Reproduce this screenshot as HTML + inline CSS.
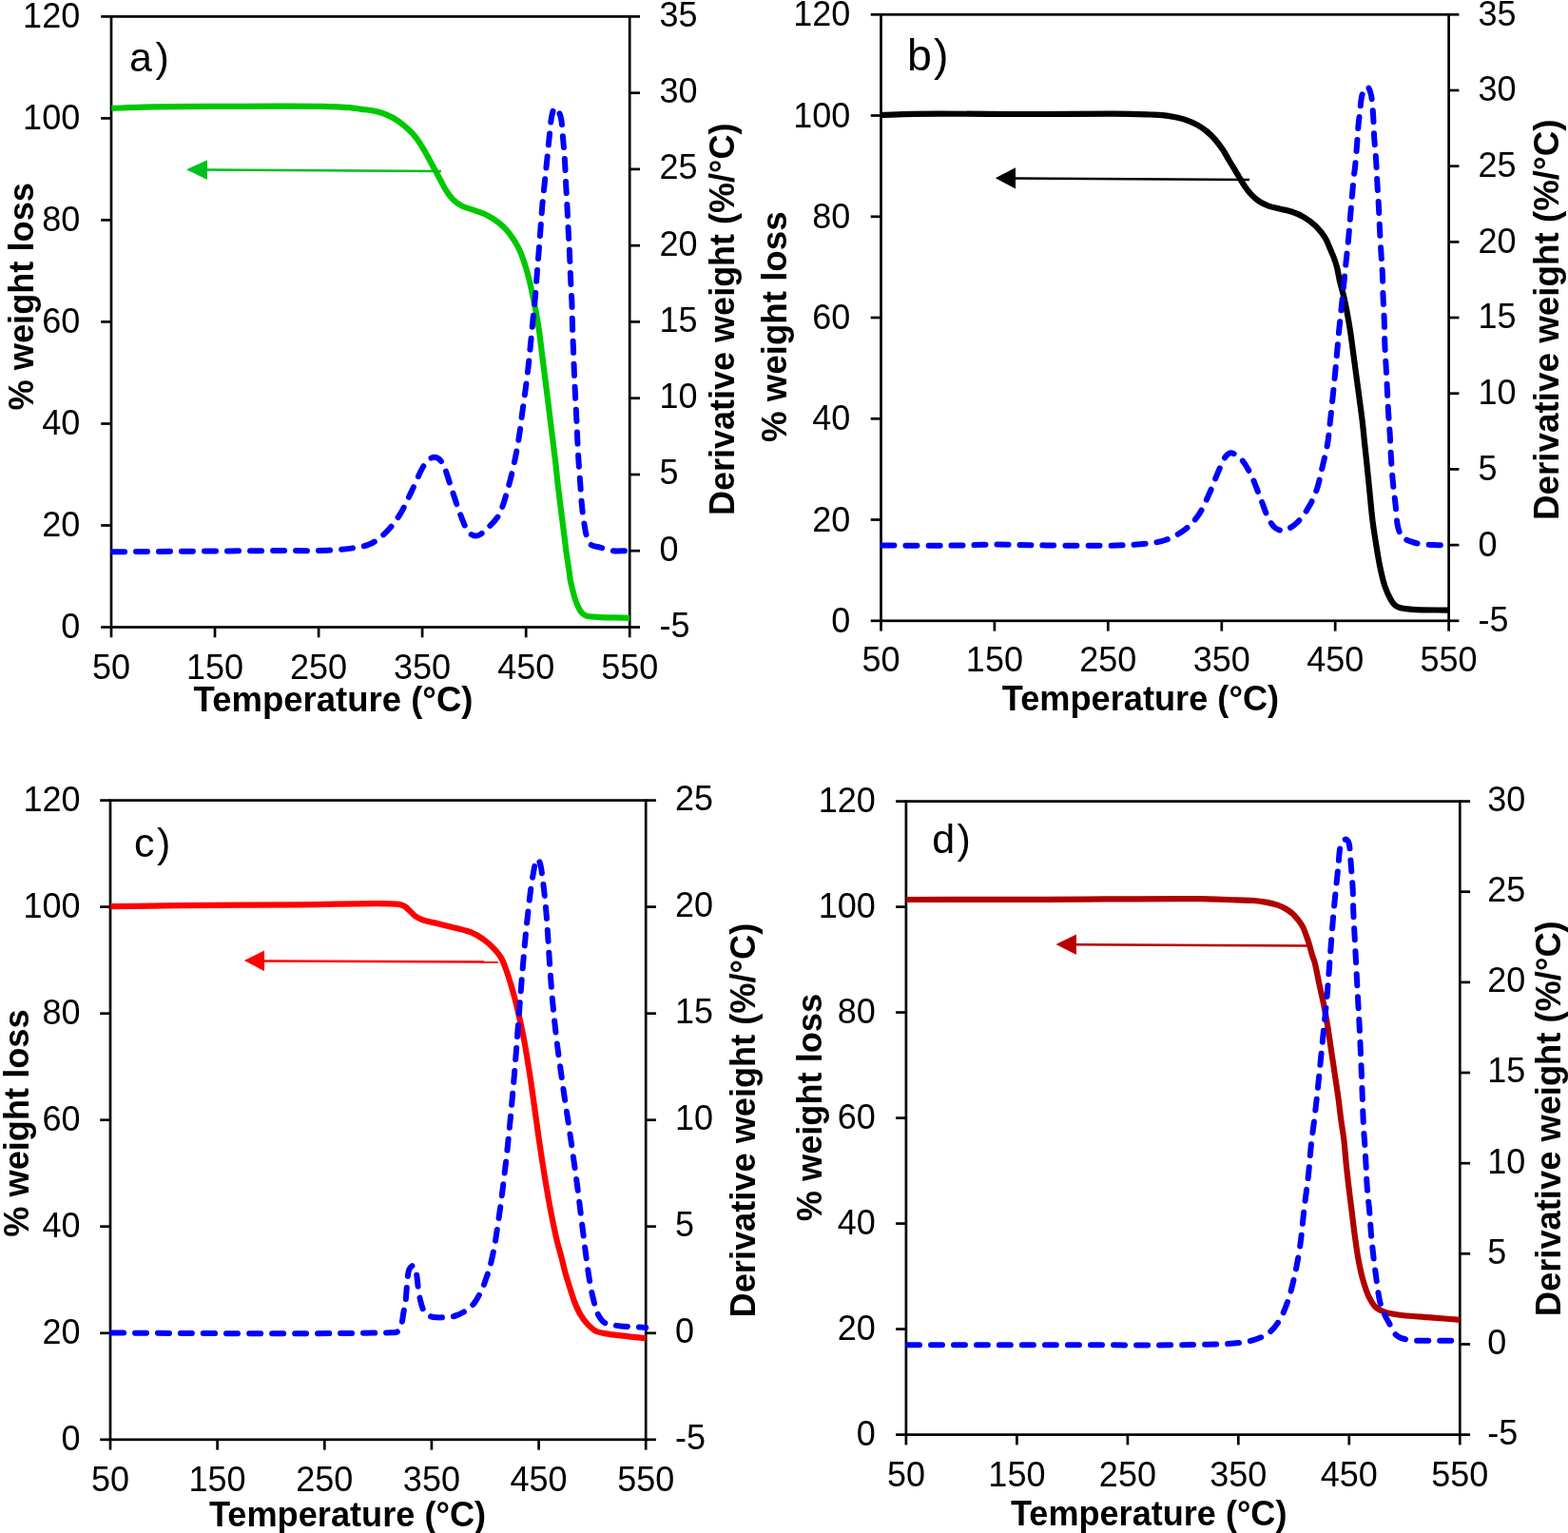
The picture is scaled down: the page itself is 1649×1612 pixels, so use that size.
<!DOCTYPE html><html><head><meta charset="utf-8"><title>TGA</title><style>html,body{margin:0;padding:0;background:#fff;}svg{display:block;}</style></head><body>
<svg width="1649" height="1612" viewBox="0 0 1649 1612">
<rect width="100%" height="100%" fill="#fff"/>
<g stroke="#000" stroke-width="2.7" fill="none" stroke-linecap="butt">
<rect x="117.0" y="17.4" width="545.2" height="642.1"/>
<line x1="106.2" y1="659.5" x2="117.0" y2="659.5"/>
<line x1="106.2" y1="552.5" x2="117.0" y2="552.5"/>
<line x1="106.2" y1="445.5" x2="117.0" y2="445.5"/>
<line x1="106.2" y1="338.4" x2="117.0" y2="338.4"/>
<line x1="106.2" y1="231.4" x2="117.0" y2="231.4"/>
<line x1="106.2" y1="124.4" x2="117.0" y2="124.4"/>
<line x1="106.2" y1="17.4" x2="117.0" y2="17.4"/>
<line x1="662.2" y1="659.5" x2="673.0" y2="659.5"/>
<line x1="662.2" y1="579.2" x2="673.0" y2="579.2"/>
<line x1="662.2" y1="499.0" x2="673.0" y2="499.0"/>
<line x1="662.2" y1="418.7" x2="673.0" y2="418.7"/>
<line x1="662.2" y1="338.4" x2="673.0" y2="338.4"/>
<line x1="662.2" y1="258.2" x2="673.0" y2="258.2"/>
<line x1="662.2" y1="177.9" x2="673.0" y2="177.9"/>
<line x1="662.2" y1="97.7" x2="673.0" y2="97.7"/>
<line x1="662.2" y1="17.4" x2="673.0" y2="17.4"/>
<line x1="117.0" y1="659.5" x2="117.0" y2="670.3"/>
<line x1="226.0" y1="659.5" x2="226.0" y2="670.3"/>
<line x1="335.1" y1="659.5" x2="335.1" y2="670.3"/>
<line x1="444.1" y1="659.5" x2="444.1" y2="670.3"/>
<line x1="553.2" y1="659.5" x2="553.2" y2="670.3"/>
<line x1="662.2" y1="659.5" x2="662.2" y2="670.3"/>
</g>
<g font-family='"Liberation Sans", Arial, sans-serif' font-size="36" fill="#000">
<text x="84.2" y="670.6" text-anchor="end">0</text>
<text x="84.2" y="563.6" text-anchor="end">20</text>
<text x="84.2" y="456.6" text-anchor="end">40</text>
<text x="84.2" y="349.6" text-anchor="end">60</text>
<text x="84.2" y="242.5" text-anchor="end">80</text>
<text x="84.2" y="135.5" text-anchor="end">100</text>
<text x="84.2" y="28.5" text-anchor="end">120</text>
<text x="693.6" y="669.9">-5</text>
<text x="693.6" y="589.6">0</text>
<text x="693.6" y="509.4">5</text>
<text x="693.6" y="429.1">10</text>
<text x="693.6" y="348.8">15</text>
<text x="693.6" y="268.6">20</text>
<text x="693.6" y="188.3">25</text>
<text x="693.6" y="108.1">30</text>
<text x="693.6" y="27.8">35</text>
<text x="117.0" y="713.6" text-anchor="middle">50</text>
<text x="226.0" y="713.6" text-anchor="middle">150</text>
<text x="335.1" y="713.6" text-anchor="middle">250</text>
<text x="444.1" y="713.6" text-anchor="middle">350</text>
<text x="553.2" y="713.6" text-anchor="middle">450</text>
<text x="662.2" y="713.6" text-anchor="middle">550</text>
</g>
<g font-family='"Liberation Sans", Arial, sans-serif' font-weight="bold" fill="#000">
<text x="203.6" y="748.2" font-size="36.5">Temperature (°C)</text>
<text transform="translate(34.8,431.4) rotate(-90)" font-size="36.2">% weight loss</text>
<text transform="translate(772.3,542.0) rotate(-90)" font-size="36.0">Derivative weight (%/°C)</text>
</g>
<text x="136.0" y="75.3" font-family='"Liberation Sans", Arial, sans-serif' font-size="43" fill="#000">a<tspan dx="3.5">)</tspan></text>
<path d="M117.20,114.00 C128.53,113.53 137.39,112.94 151.20,112.60 C172.70,112.07 204.67,112.02 233.70,111.90 C266.15,111.76 312.49,111.39 336.80,111.90 C350.12,112.18 359.74,112.52 367.70,113.20 C372.74,113.63 376.00,114.29 380.00,114.80 C383.82,115.29 387.50,115.50 391.20,116.20 C394.93,116.90 398.65,117.73 402.30,119.00 C406.08,120.31 409.86,121.94 413.50,124.00 C417.34,126.17 421.28,129.02 424.70,131.80 C427.94,134.44 430.84,137.16 433.60,140.20 C436.41,143.29 438.92,146.53 441.40,150.20 C444.14,154.26 446.73,159.21 449.20,163.60 C451.55,167.77 453.67,171.80 455.90,175.90 C458.13,180.00 460.37,184.10 462.60,188.20 C464.83,192.30 466.81,196.71 469.30,200.50 C471.67,204.11 474.17,207.74 477.10,210.50 C479.82,213.06 482.82,215.03 486.10,216.70 C489.50,218.43 493.49,219.30 497.20,220.60 C500.92,221.90 504.73,222.88 508.40,224.50 C512.20,226.18 515.98,228.18 519.60,230.60 C523.43,233.16 527.39,236.24 530.70,239.60 C533.99,242.94 536.79,246.80 539.40,250.70 C542.02,254.60 544.39,258.73 546.40,263.00 C548.43,267.30 549.98,271.89 551.50,276.40 C553.01,280.89 554.25,285.28 555.50,290.00 C556.83,295.05 557.96,300.14 559.20,305.80 C560.63,312.34 562.19,319.89 563.50,327.00 C564.82,334.15 566.09,341.66 567.10,348.60 C568.03,355.02 568.63,361.00 569.40,367.20 C570.17,373.40 570.92,379.60 571.70,385.80 C572.48,392.00 573.32,398.20 574.10,404.40 C574.88,410.60 575.63,416.80 576.40,423.00 C577.17,429.20 577.93,435.40 578.70,441.60 C579.47,447.80 580.24,454.07 581.00,460.20 C581.74,466.20 582.56,472.83 583.20,478.00 C583.69,481.99 584.05,484.57 584.50,488.60 C585.10,493.93 585.70,501.00 586.40,507.20 C587.10,513.40 587.93,519.60 588.70,525.80 C589.47,532.00 590.22,538.20 591.00,544.40 C591.78,550.60 592.62,556.80 593.40,563.00 C594.18,569.20 594.85,575.41 595.70,581.60 C596.55,587.81 597.76,594.98 598.50,600.20 C599.04,603.98 599.20,606.76 599.80,610.00 C600.40,613.26 601.30,616.47 602.10,619.70 C602.90,622.94 603.59,626.28 604.60,629.40 C605.57,632.41 606.71,635.48 608.00,638.10 C609.14,640.42 610.23,642.78 611.80,644.40 C613.20,645.85 614.59,646.86 616.70,647.60 C619.74,648.67 624.57,648.50 628.80,648.80 C633.43,649.12 638.22,649.24 643.40,649.40 C649.29,649.58 656.00,649.67 662.30,649.80" fill="none" stroke="#00c800" stroke-width="6.2" stroke-linecap="butt" stroke-linejoin="round"/>
<path d="M119.00,580.20 C146.00,580.03 171.58,579.89 200.00,579.70 C231.58,579.49 275.42,579.09 300.00,579.00 C314.35,578.95 322.83,579.36 334.10,579.00 C345.20,578.65 357.18,578.32 367.10,576.90 C375.42,575.71 383.12,574.88 389.80,571.80 C396.09,568.89 401.29,564.34 406.30,559.40 C411.65,554.12 416.37,547.67 420.70,540.80 C425.39,533.35 429.01,524.47 433.10,516.10 C437.28,507.54 441.64,495.90 445.50,490.00 C447.76,486.54 449.79,484.00 452.00,482.50 C453.58,481.42 455.21,480.79 456.80,480.80 C458.38,480.81 460.08,481.46 461.50,482.50 C463.25,483.78 464.58,485.68 466.10,488.50 C468.86,493.62 471.58,504.06 474.30,512.00 C477.08,520.12 479.70,528.97 482.60,536.70 C485.23,543.71 488.09,552.08 490.80,556.50 C492.37,559.07 493.77,560.82 495.50,562.00 C496.92,562.97 498.54,563.59 500.10,563.60 C501.70,563.62 503.35,562.93 505.00,562.00 C507.11,560.81 509.00,558.83 511.40,556.50 C514.95,553.06 520.31,548.71 523.80,542.90 C528.31,535.40 531.09,524.18 534.10,514.00 C537.36,502.98 540.24,489.60 542.40,479.00 C544.18,470.28 545.33,462.78 546.50,455.00 C547.60,447.67 548.33,440.80 549.30,433.60 C550.29,426.24 551.39,418.93 552.40,411.30 C553.46,403.26 554.57,394.77 555.50,386.50 C556.43,378.24 557.18,369.98 558.00,361.70 C558.82,353.41 559.58,345.09 560.40,336.80 C561.22,328.52 562.16,320.37 562.90,312.00 C563.66,303.44 564.24,294.33 564.90,286.00 C565.51,278.28 566.10,271.33 566.70,263.70 C567.33,255.65 567.98,247.06 568.60,238.90 C569.21,230.94 569.69,223.21 570.40,215.30 C571.12,207.28 572.07,199.17 572.90,191.10 C573.73,183.03 574.57,175.02 575.40,166.90 C576.24,158.68 577.01,150.03 577.90,142.10 C578.72,134.78 579.23,126.20 580.50,121.00 C581.28,117.81 582.04,113.86 583.30,113.50 C584.20,113.25 585.56,114.80 586.50,116.00 C587.80,117.65 588.85,119.91 589.70,123.00 C591.16,128.34 591.39,138.13 592.10,145.80 C592.82,153.59 593.49,161.43 594.00,169.40 C594.53,177.56 594.78,186.04 595.20,194.20 C595.61,202.16 596.09,209.84 596.50,217.80 C596.92,225.96 597.28,234.44 597.70,242.60 C598.11,250.56 598.61,258.05 599.00,266.20 C599.42,274.94 599.69,284.54 600.10,293.40 C600.49,301.86 601.08,309.92 601.40,318.20 C601.72,326.49 601.73,334.81 602.00,343.10 C602.27,351.38 602.68,359.63 603.00,367.90 C603.32,376.17 603.55,384.43 603.90,392.70 C604.25,400.97 604.68,409.23 605.10,417.50 C605.52,425.77 606.05,434.90 606.40,442.30 C606.69,448.30 606.81,452.60 607.10,458.60 C607.45,466.00 607.88,475.14 608.40,483.40 C608.92,491.67 609.58,499.93 610.20,508.20 C610.82,516.47 611.29,525.33 612.10,533.00 C612.80,539.68 613.67,546.12 614.60,551.70 C615.37,556.27 615.76,560.38 617.10,564.10 C618.32,567.47 619.70,571.38 622.00,573.20 C624.00,574.78 627.17,574.58 629.50,575.20 C631.53,575.74 633.02,576.14 635.20,576.70 C638.13,577.45 641.89,578.87 645.50,579.30 C649.39,579.77 655.36,579.21 657.80,579.20 C658.83,579.20 659.27,579.20 660.00,579.20" fill="none" stroke="#0000ff" stroke-width="6.0" stroke-dasharray="12 12" stroke-linecap="round" stroke-linejoin="round"/>
<line x1="216.0" y1="178.6" x2="464.0" y2="180.0" stroke="#00c020" stroke-width="2.5"/>
<polygon points="196.0,178.2 218.0,168.2 218.0,189.1" fill="#00c020"/>
<g stroke="#000" stroke-width="2.7" fill="none" stroke-linecap="butt">
<rect x="926.5" y="15.3" width="597.1" height="637.5"/>
<line x1="915.7" y1="652.8" x2="926.5" y2="652.8"/>
<line x1="915.7" y1="546.5" x2="926.5" y2="546.5"/>
<line x1="915.7" y1="440.3" x2="926.5" y2="440.3"/>
<line x1="915.7" y1="334.0" x2="926.5" y2="334.0"/>
<line x1="915.7" y1="227.8" x2="926.5" y2="227.8"/>
<line x1="915.7" y1="121.5" x2="926.5" y2="121.5"/>
<line x1="915.7" y1="15.3" x2="926.5" y2="15.3"/>
<line x1="1523.6" y1="652.8" x2="1534.4" y2="652.8"/>
<line x1="1523.6" y1="573.1" x2="1534.4" y2="573.1"/>
<line x1="1523.6" y1="493.4" x2="1534.4" y2="493.4"/>
<line x1="1523.6" y1="413.7" x2="1534.4" y2="413.7"/>
<line x1="1523.6" y1="334.0" x2="1534.4" y2="334.0"/>
<line x1="1523.6" y1="254.4" x2="1534.4" y2="254.4"/>
<line x1="1523.6" y1="174.7" x2="1534.4" y2="174.7"/>
<line x1="1523.6" y1="95.0" x2="1534.4" y2="95.0"/>
<line x1="1523.6" y1="15.3" x2="1534.4" y2="15.3"/>
<line x1="926.5" y1="652.8" x2="926.5" y2="663.6"/>
<line x1="1045.9" y1="652.8" x2="1045.9" y2="663.6"/>
<line x1="1165.3" y1="652.8" x2="1165.3" y2="663.6"/>
<line x1="1284.8" y1="652.8" x2="1284.8" y2="663.6"/>
<line x1="1404.2" y1="652.8" x2="1404.2" y2="663.6"/>
<line x1="1523.6" y1="652.8" x2="1523.6" y2="663.6"/>
</g>
<g font-family='"Liberation Sans", Arial, sans-serif' font-size="36" fill="#000">
<text x="894.3" y="664.9" text-anchor="end">0</text>
<text x="894.3" y="558.6" text-anchor="end">20</text>
<text x="894.3" y="452.4" text-anchor="end">40</text>
<text x="894.3" y="346.1" text-anchor="end">60</text>
<text x="894.3" y="239.9" text-anchor="end">80</text>
<text x="894.3" y="133.6" text-anchor="end">100</text>
<text x="894.3" y="27.4" text-anchor="end">120</text>
<text x="1554.4" y="664.2">-5</text>
<text x="1554.4" y="584.5">0</text>
<text x="1554.4" y="504.8">5</text>
<text x="1554.4" y="425.1">10</text>
<text x="1554.4" y="345.4">15</text>
<text x="1554.4" y="265.8">20</text>
<text x="1554.4" y="186.1">25</text>
<text x="1554.4" y="106.4">30</text>
<text x="1554.4" y="26.7">35</text>
<text x="926.5" y="706.4" text-anchor="middle">50</text>
<text x="1045.9" y="706.4" text-anchor="middle">150</text>
<text x="1165.3" y="706.4" text-anchor="middle">250</text>
<text x="1284.8" y="706.4" text-anchor="middle">350</text>
<text x="1404.2" y="706.4" text-anchor="middle">450</text>
<text x="1523.6" y="706.4" text-anchor="middle">550</text>
</g>
<g font-family='"Liberation Sans", Arial, sans-serif' font-weight="bold" fill="#000">
<text x="1053.8" y="746.8" font-size="36.2">Temperature (°C)</text>
<text transform="translate(827.4,465.0) rotate(-90)" font-size="36.7">% weight loss</text>
<text transform="translate(1639.0,547.0) rotate(-90)" font-size="36.8">Derivative weight (%/°C)</text>
</g>
<text x="953.9" y="73.8" font-family='"Liberation Sans", Arial, sans-serif' font-size="46.5" fill="#000">b<tspan dx="2.2">)</tspan></text>
<path d="M926.50,121.00 C938.07,120.60 946.07,120.05 961.20,119.80 C989.77,119.33 1045.63,120.01 1085.00,120.00 C1120.91,119.99 1166.30,119.48 1188.00,119.80 C1198.03,119.95 1203.71,120.25 1210.00,120.50 C1214.72,120.69 1218.28,120.69 1222.40,121.10 C1226.54,121.52 1230.69,122.17 1234.80,123.00 C1238.95,123.84 1243.13,124.70 1247.20,126.10 C1251.40,127.54 1255.78,129.46 1259.60,131.60 C1263.21,133.63 1266.50,135.92 1269.60,138.50 C1272.70,141.08 1275.53,144.02 1278.20,147.10 C1280.90,150.22 1283.30,153.52 1285.70,157.10 C1288.28,160.95 1290.62,165.37 1293.10,169.50 C1295.59,173.64 1298.11,177.76 1300.60,181.90 C1303.08,186.03 1305.41,190.47 1308.00,194.30 C1310.40,197.86 1312.75,201.25 1315.50,204.20 C1318.14,207.02 1320.98,209.63 1324.10,211.70 C1327.18,213.75 1330.51,215.29 1334.10,216.60 C1337.94,218.00 1342.37,218.67 1346.50,219.70 C1350.63,220.73 1354.83,221.38 1358.90,222.80 C1363.10,224.26 1367.29,226.03 1371.30,228.40 C1375.58,230.93 1380.00,234.11 1383.70,237.70 C1387.44,241.33 1390.99,245.84 1393.60,250.10 C1395.97,253.96 1397.43,258.42 1399.00,262.00 C1400.28,264.92 1401.31,267.10 1402.40,270.00 C1403.66,273.35 1404.97,277.09 1406.00,281.00 C1407.14,285.31 1407.67,289.87 1408.80,294.80 C1410.13,300.55 1412.18,307.18 1413.60,313.40 C1415.01,319.58 1416.17,325.79 1417.30,332.00 C1418.43,338.19 1419.47,344.38 1420.40,350.60 C1421.33,356.82 1422.07,363.08 1422.90,369.30 C1423.73,375.51 1424.57,381.70 1425.40,387.90 C1426.23,394.10 1427.07,400.30 1427.90,406.50 C1428.73,412.70 1429.58,418.90 1430.40,425.10 C1431.22,431.30 1432.05,437.29 1432.80,443.70 C1433.60,450.55 1434.29,458.24 1435.00,465.00 C1435.65,471.15 1436.19,475.83 1436.90,482.60 C1437.86,491.80 1439.10,504.34 1440.20,515.20 C1441.30,526.04 1442.22,537.47 1443.50,547.70 C1444.65,556.89 1446.04,565.46 1447.40,573.80 C1448.65,581.51 1449.76,588.75 1451.30,596.00 C1452.80,603.07 1454.34,610.59 1456.50,616.80 C1458.35,622.13 1460.89,627.71 1463.00,631.20 C1464.35,633.44 1465.43,634.98 1467.00,636.30 C1468.49,637.54 1469.93,638.29 1472.10,639.00 C1475.39,640.07 1479.67,640.45 1485.20,640.90 C1494.62,641.67 1510.80,641.37 1523.60,641.60" fill="none" stroke="#000000" stroke-width="6.2" stroke-linecap="butt" stroke-linejoin="round"/>
<path d="M928.50,573.60 C952.33,573.60 978.29,573.82 1000.00,573.60 C1018.15,573.42 1033.33,572.63 1050.00,572.60 C1066.67,572.57 1081.76,573.23 1100.00,573.40 C1122.04,573.61 1153.17,574.23 1173.00,573.60 C1186.67,573.16 1197.90,572.54 1207.60,571.30 C1214.73,570.39 1219.86,570.02 1226.00,567.80 C1232.92,565.30 1240.89,560.95 1246.80,556.30 C1252.28,552.00 1256.56,547.16 1260.60,541.30 C1265.14,534.72 1268.50,526.23 1272.10,518.30 C1275.82,510.11 1279.31,499.89 1282.50,492.90 C1284.81,487.83 1286.61,482.84 1289.00,480.00 C1290.57,478.14 1292.18,476.56 1294.00,476.30 C1295.84,476.03 1298.05,477.33 1300.00,478.50 C1302.31,479.89 1304.49,481.83 1306.70,484.50 C1309.81,488.27 1313.04,494.05 1315.90,499.80 C1319.28,506.59 1322.11,515.21 1325.20,522.90 C1328.28,530.57 1331.21,540.12 1334.40,545.90 C1336.55,549.79 1338.45,552.99 1341.00,555.00 C1343.10,556.65 1345.73,557.71 1348.00,557.90 C1350.05,558.07 1351.83,557.46 1354.00,556.50 C1357.09,555.13 1360.95,552.65 1364.30,549.40 C1368.68,545.15 1373.50,538.16 1377.00,532.10 C1380.39,526.24 1382.97,519.93 1385.10,513.70 C1387.17,507.63 1388.08,502.08 1389.70,495.20 C1391.73,486.58 1394.67,474.98 1396.20,466.00 C1397.49,458.43 1397.89,452.13 1398.70,444.90 C1399.56,437.28 1400.38,429.34 1401.20,421.40 C1402.04,413.25 1402.91,404.77 1403.70,396.60 C1404.47,388.64 1405.18,380.87 1405.90,373.00 C1406.62,365.13 1407.23,357.26 1408.00,349.40 C1408.77,341.53 1409.68,333.77 1410.50,325.80 C1411.34,317.64 1412.17,309.27 1413.00,301.00 C1413.83,292.73 1414.66,284.39 1415.50,276.20 C1416.33,268.16 1417.25,260.25 1418.00,252.30 C1418.75,244.39 1419.32,236.55 1420.00,228.60 C1420.69,220.55 1421.42,212.01 1422.10,204.30 C1422.72,197.31 1423.35,189.11 1423.90,184.30 C1424.21,181.57 1424.48,180.74 1424.80,177.90 C1425.44,172.32 1426.36,160.95 1427.00,153.00 C1427.58,145.70 1427.88,138.54 1428.50,132.00 C1429.04,126.24 1429.77,121.08 1430.40,115.80 C1431.00,110.75 1431.18,104.97 1432.20,101.00 C1432.92,98.18 1433.75,95.64 1435.00,94.00 C1435.93,92.79 1437.33,91.27 1438.30,91.50 C1439.59,91.80 1440.65,95.11 1441.50,98.00 C1442.98,103.01 1443.39,112.14 1444.00,119.60 C1444.65,127.57 1444.67,136.25 1445.20,144.40 C1445.71,152.34 1446.57,159.97 1447.10,167.90 C1447.64,176.03 1447.93,184.40 1448.40,192.60 C1448.87,200.73 1449.47,208.83 1449.90,216.90 C1450.33,224.90 1450.56,232.44 1451.00,240.80 C1451.48,250.05 1452.17,261.36 1452.70,270.00 C1453.12,276.90 1453.59,281.95 1453.90,288.60 C1454.26,296.27 1454.28,305.13 1454.60,313.40 C1454.92,321.67 1455.50,329.92 1455.80,338.20 C1456.10,346.49 1456.08,354.92 1456.40,363.10 C1456.72,371.05 1457.28,378.76 1457.70,386.60 C1458.12,394.46 1458.50,402.33 1458.90,410.20 C1459.30,418.07 1459.63,426.01 1460.10,433.80 C1460.56,441.44 1461.23,448.67 1461.70,456.50 C1462.20,464.89 1462.45,473.91 1463.00,482.60 C1463.55,491.28 1464.19,500.28 1465.00,508.60 C1465.75,516.30 1466.75,523.29 1467.60,530.80 C1468.48,538.52 1468.57,548.14 1470.20,554.30 C1471.33,558.57 1472.24,562.11 1474.70,564.70 C1477.20,567.34 1481.90,568.67 1485.20,569.90 C1487.94,570.92 1489.83,571.38 1493.00,571.90 C1497.77,572.68 1505.97,572.96 1511.20,573.20 C1515.15,573.38 1518.13,573.33 1521.60,573.40" fill="none" stroke="#0000ff" stroke-width="6.0" stroke-dasharray="12 12" stroke-linecap="round" stroke-linejoin="round"/>
<line x1="1066.0" y1="187.4" x2="1314.0" y2="189.0" stroke="#000000" stroke-width="2.5"/>
<polygon points="1046.8,187.2 1068.0,176.3 1068.0,198.4" fill="#000000"/>
<g stroke="#000" stroke-width="2.7" fill="none" stroke-linecap="butt">
<rect x="116.0" y="841.6" width="563.2" height="672.2"/>
<line x1="105.2" y1="1513.8" x2="116.0" y2="1513.8"/>
<line x1="105.2" y1="1401.8" x2="116.0" y2="1401.8"/>
<line x1="105.2" y1="1289.7" x2="116.0" y2="1289.7"/>
<line x1="105.2" y1="1177.7" x2="116.0" y2="1177.7"/>
<line x1="105.2" y1="1065.7" x2="116.0" y2="1065.7"/>
<line x1="105.2" y1="953.6" x2="116.0" y2="953.6"/>
<line x1="105.2" y1="841.6" x2="116.0" y2="841.6"/>
<line x1="679.2" y1="1513.8" x2="690.0" y2="1513.8"/>
<line x1="679.2" y1="1401.8" x2="690.0" y2="1401.8"/>
<line x1="679.2" y1="1289.7" x2="690.0" y2="1289.7"/>
<line x1="679.2" y1="1177.7" x2="690.0" y2="1177.7"/>
<line x1="679.2" y1="1065.7" x2="690.0" y2="1065.7"/>
<line x1="679.2" y1="953.6" x2="690.0" y2="953.6"/>
<line x1="679.2" y1="841.6" x2="690.0" y2="841.6"/>
<line x1="116.0" y1="1513.8" x2="116.0" y2="1524.6"/>
<line x1="228.6" y1="1513.8" x2="228.6" y2="1524.6"/>
<line x1="341.3" y1="1513.8" x2="341.3" y2="1524.6"/>
<line x1="453.9" y1="1513.8" x2="453.9" y2="1524.6"/>
<line x1="566.6" y1="1513.8" x2="566.6" y2="1524.6"/>
<line x1="679.2" y1="1513.8" x2="679.2" y2="1524.6"/>
</g>
<g font-family='"Liberation Sans", Arial, sans-serif' font-size="36" fill="#000">
<text x="84.5" y="1524.9" text-anchor="end">0</text>
<text x="84.5" y="1412.9" text-anchor="end">20</text>
<text x="84.5" y="1300.8" text-anchor="end">40</text>
<text x="84.5" y="1188.8" text-anchor="end">60</text>
<text x="84.5" y="1076.8" text-anchor="end">80</text>
<text x="84.5" y="964.7" text-anchor="end">100</text>
<text x="84.5" y="852.7" text-anchor="end">120</text>
<text x="710.1" y="1524.2">-5</text>
<text x="710.1" y="1412.2">0</text>
<text x="710.1" y="1300.1">5</text>
<text x="710.1" y="1188.1">10</text>
<text x="710.1" y="1076.1">15</text>
<text x="710.1" y="964.0">20</text>
<text x="710.1" y="852.0">25</text>
<text x="116.0" y="1568.1" text-anchor="middle">50</text>
<text x="228.6" y="1568.1" text-anchor="middle">150</text>
<text x="341.3" y="1568.1" text-anchor="middle">250</text>
<text x="453.9" y="1568.1" text-anchor="middle">350</text>
<text x="566.6" y="1568.1" text-anchor="middle">450</text>
<text x="679.2" y="1568.1" text-anchor="middle">550</text>
</g>
<g font-family='"Liberation Sans", Arial, sans-serif' font-weight="bold" fill="#000">
<text x="219.9" y="1604.8" font-size="36.2">Temperature (°C)</text>
<text transform="translate(30.3,1300.7) rotate(-90)" font-size="36.2">% weight loss</text>
<text transform="translate(793.9,1385.4) rotate(-90)" font-size="36.2">Derivative weight (%/°C)</text>
</g>
<text x="141.0" y="900.5" font-family='"Liberation Sans", Arial, sans-serif' font-size="43" fill="#000">c<tspan dx="2.5">)</tspan></text>
<path d="M116.20,953.20 C141.63,952.87 164.01,952.49 192.50,952.20 C228.78,951.83 276.84,951.52 316.20,951.30 C352.13,951.10 405.83,948.71 419.30,950.90 C422.69,951.45 423.55,951.87 425.50,953.00 C427.68,954.26 429.64,956.61 431.60,958.40 C433.47,960.11 434.97,962.06 437.00,963.50 C439.09,964.98 441.06,965.99 444.00,967.10 C448.47,968.78 455.74,970.05 461.60,971.50 C467.44,972.95 473.42,974.32 479.10,975.80 C484.54,977.22 489.99,978.11 495.00,980.20 C499.95,982.26 504.78,985.17 509.00,988.20 C513.00,991.07 516.70,994.50 519.80,997.80 C522.57,1000.75 524.87,1003.44 526.90,1006.90 C529.15,1010.74 530.72,1015.45 532.40,1020.00 C534.17,1024.79 535.70,1029.99 537.20,1035.00 C538.70,1039.99 540.08,1044.99 541.40,1050.00 C542.71,1054.99 543.93,1059.99 545.10,1065.00 C546.26,1069.99 547.35,1074.99 548.40,1080.00 C549.45,1084.99 550.47,1089.99 551.40,1095.00 C552.33,1099.99 553.17,1105.00 554.00,1110.00 C554.83,1115.00 555.62,1120.00 556.40,1125.00 C557.18,1130.00 557.97,1135.00 558.70,1140.00 C559.43,1145.00 560.10,1150.00 560.80,1155.00 C561.50,1160.00 562.20,1165.00 562.90,1170.00 C563.60,1175.00 564.30,1180.00 565.00,1185.00 C565.70,1190.00 566.38,1195.00 567.10,1200.00 C567.82,1205.00 568.53,1210.00 569.30,1215.00 C570.07,1220.00 570.90,1225.00 571.70,1230.00 C572.50,1235.00 573.27,1240.00 574.10,1245.00 C574.93,1250.00 575.80,1255.00 576.70,1260.00 C577.60,1265.00 578.53,1270.00 579.50,1275.00 C580.47,1280.00 581.45,1285.01 582.50,1290.00 C583.55,1295.01 584.53,1299.84 585.80,1305.00 C587.17,1310.58 589.03,1316.63 590.50,1322.30 C591.92,1327.76 593.02,1333.05 594.50,1338.40 C595.99,1343.79 597.74,1349.28 599.40,1354.50 C600.98,1359.47 602.33,1364.29 604.20,1369.00 C606.06,1373.69 608.16,1378.64 610.60,1382.70 C612.79,1386.34 615.16,1389.54 617.90,1392.40 C620.57,1395.19 623.28,1397.96 626.80,1399.70 C630.69,1401.62 635.47,1402.02 640.50,1402.90 C646.53,1403.96 654.03,1404.55 660.60,1405.30 C666.92,1406.02 673.00,1406.63 679.20,1407.30" fill="none" stroke="#ff0000" stroke-width="6.2" stroke-linecap="butt" stroke-linejoin="round"/>
<path d="M118.00,1401.50 C145.33,1401.67 170.99,1401.87 200.00,1402.00 C232.79,1402.15 275.42,1402.34 304.80,1402.30 C326.12,1402.27 343.08,1402.15 360.00,1402.00 C374.40,1401.87 390.56,1401.68 400.00,1401.50 C405.17,1401.40 408.79,1401.39 412.00,1401.20 C414.16,1401.07 415.99,1401.55 417.40,1400.70 C418.84,1399.84 419.63,1397.60 420.50,1396.00 C421.32,1394.49 421.94,1393.30 422.50,1391.40 C423.33,1388.58 423.65,1384.19 424.30,1380.50 C424.98,1376.69 425.95,1372.90 426.50,1368.90 C427.08,1364.68 427.23,1360.14 427.60,1355.80 C427.96,1351.51 428.13,1346.82 428.70,1343.00 C429.17,1339.86 429.34,1336.60 430.50,1334.50 C431.38,1332.91 432.97,1330.98 434.10,1331.00 C435.13,1331.02 436.29,1332.60 437.00,1334.00 C438.04,1336.04 438.05,1339.54 438.50,1342.70 C439.03,1346.44 439.30,1350.90 439.90,1355.00 C440.50,1359.13 441.08,1363.44 442.10,1367.40 C443.07,1371.19 443.89,1375.44 445.80,1378.30 C447.46,1380.78 449.89,1382.84 452.30,1384.00 C454.53,1385.07 456.91,1385.10 459.60,1385.30 C462.86,1385.54 467.24,1385.27 470.50,1385.00 C473.18,1384.78 475.18,1384.76 477.80,1384.00 C481.14,1383.03 485.33,1381.14 488.70,1379.00 C492.13,1376.82 495.36,1374.40 498.20,1371.00 C501.57,1366.96 504.63,1360.62 506.90,1355.80 C508.82,1351.73 509.94,1347.94 511.30,1344.10 C512.60,1340.42 513.90,1336.65 514.90,1333.20 C515.79,1330.15 516.35,1327.78 517.10,1324.50 C518.07,1320.29 519.20,1314.88 520.10,1310.00 C521.01,1305.05 521.73,1300.00 522.50,1295.00 C523.27,1290.00 523.98,1285.00 524.70,1280.00 C525.42,1275.00 526.13,1270.00 526.80,1265.00 C527.47,1260.00 528.08,1255.00 528.70,1250.00 C529.32,1245.00 529.90,1240.00 530.50,1235.00 C531.10,1230.00 531.73,1225.00 532.30,1220.00 C532.87,1215.00 533.38,1210.00 533.90,1205.00 C534.42,1200.00 534.90,1195.00 535.40,1190.00 C535.90,1185.00 536.42,1180.00 536.90,1175.00 C537.38,1170.00 537.85,1165.00 538.30,1160.00 C538.75,1155.00 539.17,1150.00 539.60,1145.00 C540.03,1140.00 540.48,1135.00 540.90,1130.00 C541.32,1125.00 541.70,1120.00 542.10,1115.00 C542.50,1110.00 542.92,1105.00 543.30,1100.00 C543.68,1095.00 544.02,1090.00 544.40,1085.00 C544.78,1080.00 545.22,1075.00 545.60,1070.00 C545.98,1065.00 546.32,1060.00 546.70,1055.00 C547.08,1050.00 547.50,1045.00 547.90,1040.00 C548.30,1035.00 548.68,1030.00 549.10,1025.00 C549.52,1020.00 549.97,1015.00 550.40,1010.00 C550.83,1005.00 551.25,1000.00 551.70,995.00 C552.15,990.00 552.60,985.00 553.10,980.00 C553.60,975.00 554.15,970.00 554.70,965.00 C555.25,960.00 555.82,955.00 556.40,950.00 C556.98,945.00 557.52,939.92 558.20,935.00 C558.86,930.22 559.60,925.39 560.40,920.90 C561.14,916.76 561.73,912.16 562.80,909.00 C563.56,906.76 564.60,903.52 565.50,903.50 C566.33,903.48 567.30,906.04 568.00,908.00 C569.12,911.14 569.64,916.58 570.30,921.00 C570.98,925.57 571.46,930.25 572.00,935.00 C572.56,939.91 573.12,945.00 573.60,950.00 C574.08,955.00 574.52,960.00 574.90,965.00 C575.28,970.00 575.57,975.00 575.90,980.00 C576.23,985.00 576.58,990.00 576.90,995.00 C577.22,1000.00 577.47,1005.00 577.80,1010.00 C578.13,1015.00 578.53,1020.00 578.90,1025.00 C579.27,1030.00 579.60,1035.00 580.00,1040.00 C580.40,1045.00 580.83,1050.00 581.30,1055.00 C581.77,1060.00 582.28,1065.00 582.80,1070.00 C583.32,1075.00 583.83,1080.00 584.40,1085.00 C584.97,1090.00 585.57,1095.00 586.20,1100.00 C586.83,1105.00 587.52,1110.00 588.20,1115.00 C588.88,1120.00 589.60,1125.00 590.30,1130.00 C591.00,1135.00 591.68,1140.00 592.40,1145.00 C593.12,1150.00 593.85,1155.00 594.60,1160.00 C595.35,1165.00 596.15,1170.00 596.90,1175.00 C597.65,1180.00 598.37,1185.00 599.10,1190.00 C599.83,1195.00 600.58,1200.00 601.30,1205.00 C602.02,1210.00 602.70,1215.00 603.40,1220.00 C604.10,1225.00 604.82,1230.00 605.50,1235.00 C606.18,1240.00 606.85,1245.00 607.50,1250.00 C608.15,1255.00 608.78,1260.00 609.40,1265.00 C610.02,1270.00 610.58,1275.00 611.20,1280.00 C611.82,1285.00 612.48,1290.00 613.10,1295.00 C613.72,1300.00 614.27,1305.00 614.90,1310.00 C615.53,1315.00 616.22,1320.00 616.90,1325.00 C617.58,1330.00 618.23,1335.00 619.00,1340.00 C619.77,1345.01 620.65,1350.64 621.50,1355.00 C622.16,1358.39 622.77,1360.93 623.50,1364.00 C624.27,1367.25 625.02,1370.81 626.00,1374.00 C626.93,1377.03 627.67,1379.97 629.20,1382.70 C630.82,1385.59 633.08,1389.09 635.60,1390.80 C637.78,1392.28 640.35,1392.42 643.00,1393.00 C645.97,1393.65 648.81,1394.01 652.60,1394.40 C658.07,1394.96 667.84,1395.31 672.70,1395.60 C675.46,1395.77 677.03,1395.87 679.20,1396.00" fill="none" stroke="#0000ff" stroke-width="6.0" stroke-dasharray="12 12" stroke-linecap="round" stroke-linejoin="round"/>
<line x1="276.0" y1="1010.4" x2="524.0" y2="1011.5" stroke="#ff0000" stroke-width="2.5"/>
<polygon points="256.8,1009.9 278.0,999.6 278.0,1021.2" fill="#ff0000"/>
<g stroke="#000" stroke-width="2.7" fill="none" stroke-linecap="butt">
<rect x="952.9" y="842.6" width="582.4" height="666.0"/>
<line x1="942.1" y1="1508.6" x2="952.9" y2="1508.6"/>
<line x1="942.1" y1="1397.6" x2="952.9" y2="1397.6"/>
<line x1="942.1" y1="1286.6" x2="952.9" y2="1286.6"/>
<line x1="942.1" y1="1175.6" x2="952.9" y2="1175.6"/>
<line x1="942.1" y1="1064.6" x2="952.9" y2="1064.6"/>
<line x1="942.1" y1="953.6" x2="952.9" y2="953.6"/>
<line x1="942.1" y1="842.6" x2="952.9" y2="842.6"/>
<line x1="1535.3" y1="1508.6" x2="1546.1" y2="1508.6"/>
<line x1="1535.3" y1="1413.5" x2="1546.1" y2="1413.5"/>
<line x1="1535.3" y1="1318.3" x2="1546.1" y2="1318.3"/>
<line x1="1535.3" y1="1223.2" x2="1546.1" y2="1223.2"/>
<line x1="1535.3" y1="1128.0" x2="1546.1" y2="1128.0"/>
<line x1="1535.3" y1="1032.9" x2="1546.1" y2="1032.9"/>
<line x1="1535.3" y1="937.7" x2="1546.1" y2="937.7"/>
<line x1="1535.3" y1="842.6" x2="1546.1" y2="842.6"/>
<line x1="952.9" y1="1508.6" x2="952.9" y2="1519.4"/>
<line x1="1069.4" y1="1508.6" x2="1069.4" y2="1519.4"/>
<line x1="1185.9" y1="1508.6" x2="1185.9" y2="1519.4"/>
<line x1="1302.3" y1="1508.6" x2="1302.3" y2="1519.4"/>
<line x1="1418.8" y1="1508.6" x2="1418.8" y2="1519.4"/>
<line x1="1535.3" y1="1508.6" x2="1535.3" y2="1519.4"/>
</g>
<g font-family='"Liberation Sans", Arial, sans-serif' font-size="36" fill="#000">
<text x="920.8" y="1519.7" text-anchor="end">0</text>
<text x="920.8" y="1408.7" text-anchor="end">20</text>
<text x="920.8" y="1297.7" text-anchor="end">40</text>
<text x="920.8" y="1186.7" text-anchor="end">60</text>
<text x="920.8" y="1075.7" text-anchor="end">80</text>
<text x="920.8" y="964.7" text-anchor="end">100</text>
<text x="920.8" y="853.7" text-anchor="end">120</text>
<text x="1564.3" y="1519.0">-5</text>
<text x="1564.3" y="1423.9">0</text>
<text x="1564.3" y="1328.7">5</text>
<text x="1564.3" y="1233.6">10</text>
<text x="1564.3" y="1138.4">15</text>
<text x="1564.3" y="1043.3">20</text>
<text x="1564.3" y="948.1">25</text>
<text x="1564.3" y="853.0">30</text>
<text x="952.9" y="1562.6" text-anchor="middle">50</text>
<text x="1069.4" y="1562.6" text-anchor="middle">150</text>
<text x="1185.9" y="1562.6" text-anchor="middle">250</text>
<text x="1302.3" y="1562.6" text-anchor="middle">350</text>
<text x="1418.8" y="1562.6" text-anchor="middle">450</text>
<text x="1535.3" y="1562.6" text-anchor="middle">550</text>
</g>
<g font-family='"Liberation Sans", Arial, sans-serif' font-weight="bold" fill="#000">
<text x="1063.0" y="1604.0" font-size="36.1">Temperature (°C)</text>
<text transform="translate(863.5,1284.2) rotate(-90)" font-size="36.2">% weight loss</text>
<text transform="translate(1641.0,1384.2) rotate(-90)" font-size="36.3">Derivative weight (%/°C)</text>
</g>
<text x="980.2" y="897.0" font-family='"Liberation Sans", Arial, sans-serif' font-size="43" fill="#000">d<tspan dx="2.5">)</tspan></text>
<path d="M953.00,946.00 C1002.00,945.93 1049.82,945.93 1100.00,945.80 C1152.66,945.67 1226.65,944.71 1261.90,945.20 C1279.01,945.44 1289.55,946.07 1300.00,946.40 C1307.30,946.63 1313.04,946.55 1318.60,947.00 C1323.16,947.37 1326.89,947.82 1331.00,948.60 C1335.16,949.38 1339.62,950.37 1343.40,951.70 C1346.78,952.89 1349.98,954.42 1352.70,956.00 C1355.05,957.36 1356.92,958.65 1358.90,960.40 C1361.08,962.32 1363.22,964.81 1365.10,967.20 C1366.95,969.55 1368.68,971.91 1370.10,974.60 C1371.61,977.45 1372.66,980.78 1373.80,983.90 C1374.93,986.98 1375.91,989.94 1376.90,993.20 C1377.98,996.75 1378.96,1001.04 1380.00,1004.40 C1380.86,1007.19 1381.71,1008.75 1382.60,1012.00 C1384.12,1017.53 1385.77,1027.25 1387.40,1034.80 C1389.01,1042.28 1390.83,1049.76 1392.30,1057.10 C1393.72,1064.22 1394.89,1070.87 1396.10,1078.20 C1397.41,1086.15 1398.57,1094.81 1399.80,1103.10 C1401.03,1111.38 1402.27,1119.63 1403.50,1127.90 C1404.73,1136.17 1406.07,1144.43 1407.20,1152.70 C1408.33,1160.96 1409.22,1169.44 1410.30,1177.50 C1411.33,1185.19 1412.60,1192.31 1413.50,1200.00 C1414.45,1208.05 1414.95,1216.54 1415.80,1224.80 C1416.65,1233.07 1417.62,1241.34 1418.60,1249.60 C1419.58,1257.87 1420.67,1266.12 1421.70,1274.40 C1422.73,1282.69 1423.67,1291.02 1424.80,1299.30 C1425.93,1307.58 1427.00,1316.08 1428.50,1324.10 C1429.93,1331.76 1431.50,1339.48 1433.50,1346.40 C1435.30,1352.62 1437.18,1358.78 1439.70,1363.80 C1441.84,1368.06 1444.03,1372.18 1447.10,1374.90 C1449.90,1377.38 1453.13,1378.61 1457.00,1379.90 C1461.89,1381.53 1467.81,1382.15 1474.40,1383.00 C1482.94,1384.10 1493.99,1384.61 1504.00,1385.40 C1514.29,1386.21 1524.87,1387.00 1535.30,1387.80" fill="none" stroke="#b00000" stroke-width="6.2" stroke-linecap="butt" stroke-linejoin="round"/>
<path d="M955.00,1414.30 C1003.33,1414.27 1050.92,1414.25 1100.00,1414.20 C1150.63,1414.15 1217.01,1414.81 1254.30,1414.00 C1275.51,1413.54 1291.90,1413.52 1304.20,1411.90 C1311.55,1410.93 1316.33,1409.88 1321.60,1408.00 C1326.36,1406.30 1330.74,1404.56 1334.60,1401.50 C1338.78,1398.18 1342.37,1393.45 1345.50,1388.40 C1349.00,1382.75 1351.63,1375.83 1354.10,1368.90 C1356.76,1361.43 1358.68,1353.75 1360.70,1345.00 C1363.12,1334.55 1365.43,1322.25 1367.20,1310.30 C1369.07,1297.69 1370.01,1283.85 1371.50,1271.20 C1372.91,1259.26 1374.63,1248.00 1375.90,1236.40 C1377.16,1224.84 1377.91,1212.50 1379.10,1201.70 C1380.14,1192.21 1381.40,1184.29 1382.50,1175.00 C1383.70,1164.89 1384.74,1155.26 1386.00,1143.30 C1387.64,1127.71 1389.80,1105.23 1391.40,1089.40 C1392.66,1076.94 1393.86,1066.02 1394.80,1056.00 C1395.56,1047.82 1396.09,1041.24 1396.70,1033.70 C1397.33,1025.95 1397.89,1018.06 1398.50,1010.10 C1399.12,1001.94 1399.76,993.46 1400.40,985.30 C1401.03,977.34 1401.59,969.66 1402.30,961.70 C1403.02,953.53 1403.87,945.06 1404.70,936.90 C1405.51,928.93 1406.36,921.14 1407.20,913.30 C1408.03,905.51 1408.26,895.15 1409.70,890.00 C1410.46,887.26 1411.29,885.24 1412.50,884.00 C1413.36,883.12 1414.59,882.35 1415.50,882.50 C1416.43,882.65 1417.42,884.01 1418.00,885.00 C1418.59,886.00 1418.69,886.81 1419.00,888.50 C1419.77,892.71 1420.30,903.24 1420.90,910.90 C1421.53,918.95 1422.30,927.53 1422.70,935.70 C1423.09,943.66 1422.99,951.34 1423.30,959.30 C1423.62,967.47 1424.18,975.94 1424.60,984.10 C1425.01,992.04 1425.39,999.71 1425.80,1007.60 C1426.22,1015.61 1426.68,1023.84 1427.10,1031.80 C1427.51,1039.56 1427.89,1047.29 1428.30,1054.80 C1428.69,1062.01 1429.06,1067.32 1429.50,1076.00 C1430.20,1089.83 1431.15,1111.75 1431.90,1129.80 C1432.66,1148.08 1433.27,1171.47 1434.00,1185.00 C1434.42,1192.88 1434.88,1197.18 1435.30,1203.70 C1435.75,1210.83 1436.19,1218.54 1436.60,1226.10 C1437.02,1233.84 1437.20,1241.67 1437.80,1249.60 C1438.42,1257.76 1439.58,1266.12 1440.30,1274.40 C1441.02,1282.69 1441.37,1291.13 1442.10,1299.30 C1442.81,1307.25 1443.67,1314.96 1444.60,1322.80 C1445.53,1330.66 1446.55,1338.54 1447.70,1346.40 C1448.85,1354.28 1449.78,1363.52 1451.50,1370.00 C1452.76,1374.74 1454.35,1378.32 1456.00,1382.00 C1457.48,1385.29 1458.91,1387.80 1460.80,1391.10 C1463.15,1395.22 1465.42,1401.72 1469.20,1404.70 C1472.70,1407.46 1477.04,1408.10 1482.20,1409.00 C1489.32,1410.25 1499.69,1409.58 1508.30,1409.70 C1516.72,1409.81 1524.97,1409.70 1533.30,1409.70" fill="none" stroke="#0000ff" stroke-width="6.0" stroke-dasharray="12 12" stroke-linecap="round" stroke-linejoin="round"/>
<line x1="1130.0" y1="993.2" x2="1375.2" y2="994.5" stroke="#b80000" stroke-width="2.5"/>
<polygon points="1110.5,993.0 1132.0,982.5 1132.0,1003.9" fill="#b80000"/>
</svg></body></html>
